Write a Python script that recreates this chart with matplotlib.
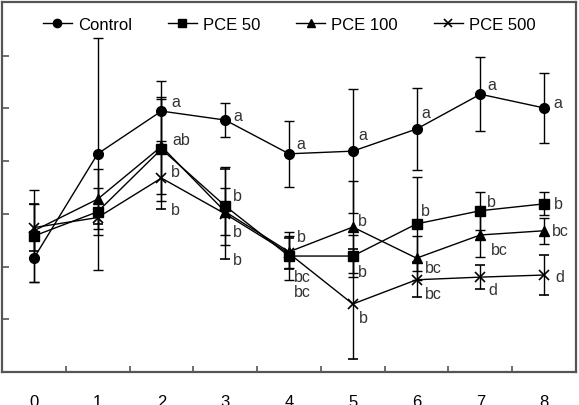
import matplotlib
matplotlib.use("Agg")
import matplotlib.pyplot as plt
from matplotlib.ticker import FixedLocator
from matplotlib.lines import Line2D

plt.rcParams['font.family'] = ['Liberation Sans', 'DejaVu Sans']

days = [0, 1, 2, 3, 4, 5, 6, 7, 8]

control = [2.16, 4.14, 4.95, 4.78, 4.14, 4.19, 4.61, 5.27, 5.01]
control_err = [0.45, 2.20, 0.57, 0.33, 0.63, 1.18, 0.78, 0.70, 0.66]
control_lab = [None, None, "a", "a", "a", "a", "a", "a", "a"]

pce50 = [2.58, 3.04, 4.23, 3.15, 2.20, 2.20, 2.81, 3.06, 3.19]
pce50_err = [0.87, 0.45, 0.99, 0.74, 0.45, 0.40, 0.89, 0.36, 0.22]
pce50_lab = [None, None, "ab", "b", "b", "b", "b", "b", "b"]

pce100 = [2.68, 3.28, 4.28, 3.04, 2.28, 2.75, 2.16, 2.60, 2.68]
pce100_err = [0.50, 0.57, 0.90, 0.45, 0.30, 0.87, 0.42, 0.42, 0.25]
pce100_lab = [None, None, "b", "b", "bc", "b", "bc", "bc", "bc"]

pce500 = [2.74, 2.93, 3.68, 3.00, 2.25, 1.29, 1.75, 1.80, 1.84]
pce500_err = [0.45, 0.12, 0.59, 0.86, 0.30, 1.04, 0.33, 0.23, 0.38]
pce500_lab = [None, None, "b", "b", "bc", "b", "bc", "d", "d"]

names = ["Control", "PCE 50", "PCE 100", "PCE 500"]

# label offsets (style): (dx, dy) in data units relative to each point
off_control = [None, None, (0.15, 0.19), (0.12, 0.08), (0.12, 0.19), (0.08, 0.31), (0.07, 0.32), (0.11, 0.19), (0.15, 0.11)]
off_pce50 = [None, None, (0.17, 0.19), (0.12, 0.19), (0.12, 0.38), (0.08, -0.30), (0.07, 0.25), (0.11, 0.18), (0.15, 0.0)]
off_pce100 = [None, None, (0.15, -0.47), (0.12, -0.38), (0.07, -0.46), (0.08, 0.12), (0.13, -0.17), (0.17, -0.27), (0.13, 0.0)]
off_pce500 = [None, None, (0.15, -0.59), (0.12, -0.86), (0.07, -0.73), (0.10, -0.25), (0.13, -0.27), (0.12, -0.23), (0.18, -0.02)]

fig = plt.figure(figsize=(5.79, 4.06), dpi=100)
ax = fig.add_axes([2/579, 1 - 373/406, 574/579, 370/406])

series = [
    (control, control_err, control_lab, off_control, dict(marker='o', ms=7)),
    (pce50, pce50_err, pce50_lab, off_pce50, dict(marker='s', ms=7)),
    (pce100, pce100_err, pce100_lab, off_pce100, dict(marker='^', ms=6.5)),
    (pce500, pce500_err, pce500_lab, off_pce500, dict(marker='x', ms=6.5, mew=1.2)),
]

handles = []
for (vals, errs, labs, offs, mk), name in zip(series, names):
    ax.errorbar(days, vals, yerr=errs, color='black', lw=1.0, elinewidth=1.0,
                capsize=3.6, capthick=1.0, mfc='black', mec='black', **mk)
    lmk = dict(mk)
    lmk['ms'] = mk['ms'] * 0.85
    handles.append(Line2D([], [], color='black', lw=1.0, mfc='black', mec='black',
                          label=name, **lmk))
    for x, y, t, o in zip(days, vals, labs, offs):
        if t is not None:
            ax.text(x + o[0], y + o[1], t, fontsize=11.5, color='#333333',
                    ha='left', va='center')

ax.set_xlim(-0.5, 8.5)
ax.set_ylim(0, 7.02)

ax.xaxis.set_major_locator(FixedLocator(days))
ax.set_xticklabels([str(d) for d in days])
ax.xaxis.set_minor_locator(FixedLocator([d + 0.5 for d in days[:-1]]))
ax.tick_params(axis='x', which='major', length=0, pad=16, labelsize=12)
ax.tick_params(axis='x', which='minor', direction='in', length=4, width=1.2, color='#555555')
ax.set_yticks([1, 2, 3, 4, 5, 6])
ax.tick_params(axis='y', direction='in', length=5, width=1.2, color='#555555', labelleft=False)

for sp in ax.spines.values():
    sp.set_color('#555555')
    sp.set_linewidth(1.6)

ax.legend(handles=handles, loc='upper center', bbox_to_anchor=(0.5, 1.0), ncol=4,
          frameon=False, fontsize=12, handlelength=1.75, handletextpad=0.36,
          columnspacing=2.15, borderaxespad=0.5)

fig.savefig('out.png', dpi=100)
